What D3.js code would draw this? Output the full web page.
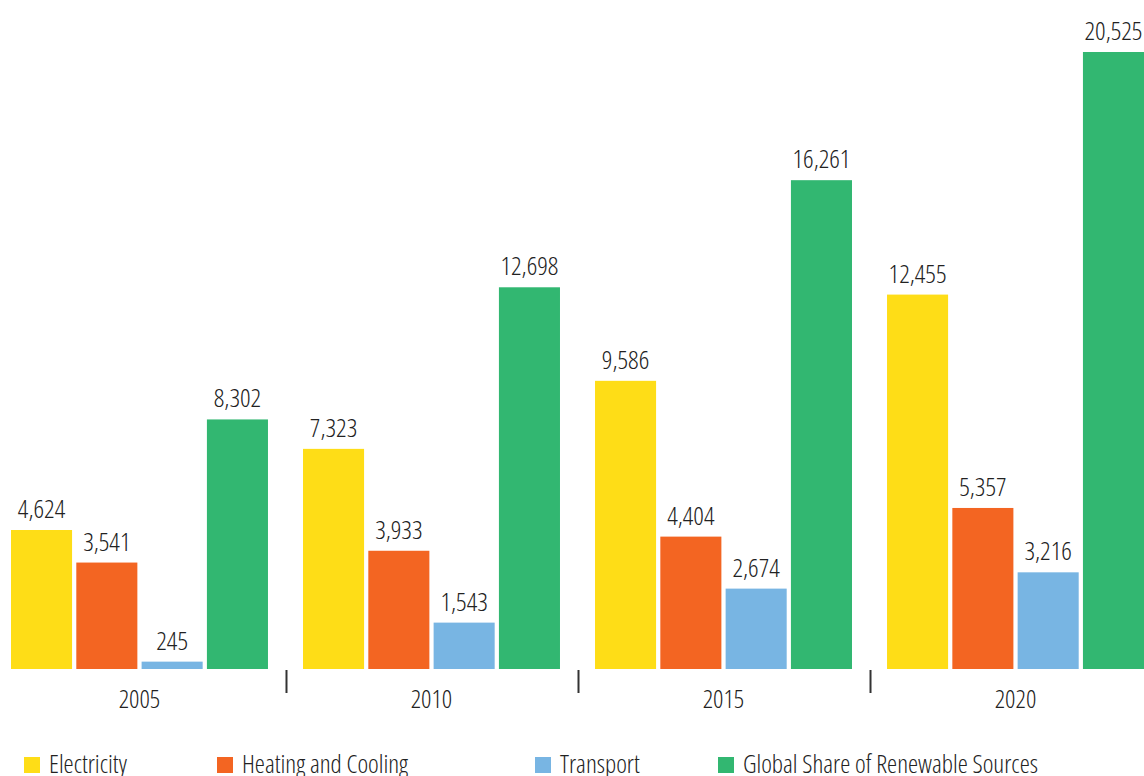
<!DOCTYPE html>
<html><head><meta charset="utf-8">
<script src="https://cdn.jsdelivr.net/npm/d3@7"></script>
<style>
html,body{margin:0;padding:0;background:#fff;}
svg text{font-family:"Open Sans",sans-serif;font-stretch:condensed;font-weight:340;fill:#222;}
</style></head>
<body><svg id="c" width="1144" height="776"></svg>
<script>
const years = ["2005","2010","2015","2020"];
const seriesNames = ["Electricity","Heating and Cooling","Transport","Global Share of Renewable Sources"];
const electricity = [4624, 7323, 9586, 12455];
const heatingCooling = [3541, 3933, 4404, 5357];
const transport = [245, 1543, 2674, 3216];
const globalShare = [8302, 12698, 16261, 20525];
const colors = ["#FEDD17","#F36522","#78B5E3","#32B771"];

const seriesValues = [electricity, heatingCooling, transport, globalShare];
const svg = d3.select("#c");
const baseY = 669, topY = 52;

const x0 = d3.scaleBand().domain(years).range([11, 1144]).paddingInner(0.12).paddingOuter(0);
const x1 = d3.scaleBand().domain(seriesNames).range([0, x0.bandwidth()]).paddingInner(0.065).paddingOuter(0);
const y = d3.scaleLinear().domain([0, d3.max(globalShare)]).range([baseY, topY]);
const fmt = d3.format(",");

const groups = svg.selectAll("g.grp").data(years).join("g")
  .attr("class","grp")
  .attr("transform", d => `translate(${x0(d)},0)`);

groups.each(function(yr, gi){
  const g = d3.select(this);
  const rows = seriesNames.map((s, si) => ({s, si, v: seriesValues[si][gi]}));
  g.selectAll("rect").data(rows).join("rect")
    .attr("x", d => x1(d.s))
    .attr("width", x1.bandwidth())
    .attr("y", d => y(d.v))
    .attr("height", d => baseY - y(d.v))
    .attr("fill", d => colors[d.si]);
  g.selectAll("text.val").data(rows).join("text")
    .attr("class","val")
    .attr("x", d => x1(d.s) + x1.bandwidth()/2)
    .attr("y", d => y(d.v) - 12)
    .attr("text-anchor","middle")
    .attr("font-size", 26)
    .text(d => fmt(d.v));
});

svg.selectAll("text.yr").data(years).join("text")
  .attr("class","yr")
  .attr("x", d => x0(d) + x0.bandwidth()/2)
  .attr("y", 708)
  .attr("text-anchor","middle")
  .attr("font-size", 25.5)
  .text(d => d);

const step = x0.step();
svg.selectAll("line.sep").data(years.slice(1)).join("line")
  .attr("class","sep")
  .attr("x1", d => x0(d) - (step - x0.bandwidth())/2 + 1)
  .attr("x2", d => x0(d) - (step - x0.bandwidth())/2 + 1)
  .attr("y1", 670).attr("y2", 693)
  .attr("stroke", "#333").attr("stroke-width", 2);

const legendX = [24, 217, 535, 718];
const lg = svg.selectAll("g.lg").data(seriesNames).join("g")
  .attr("class","lg")
  .attr("transform", (d,i) => `translate(${legendX[i]},757)`);
lg.append("rect").attr("width",16).attr("height",16).attr("fill",(d,i)=>colors[i]);
lg.append("text").attr("x",25).attr("y",16).attr("font-size",25.5).text(d=>d);
</script></body></html>
